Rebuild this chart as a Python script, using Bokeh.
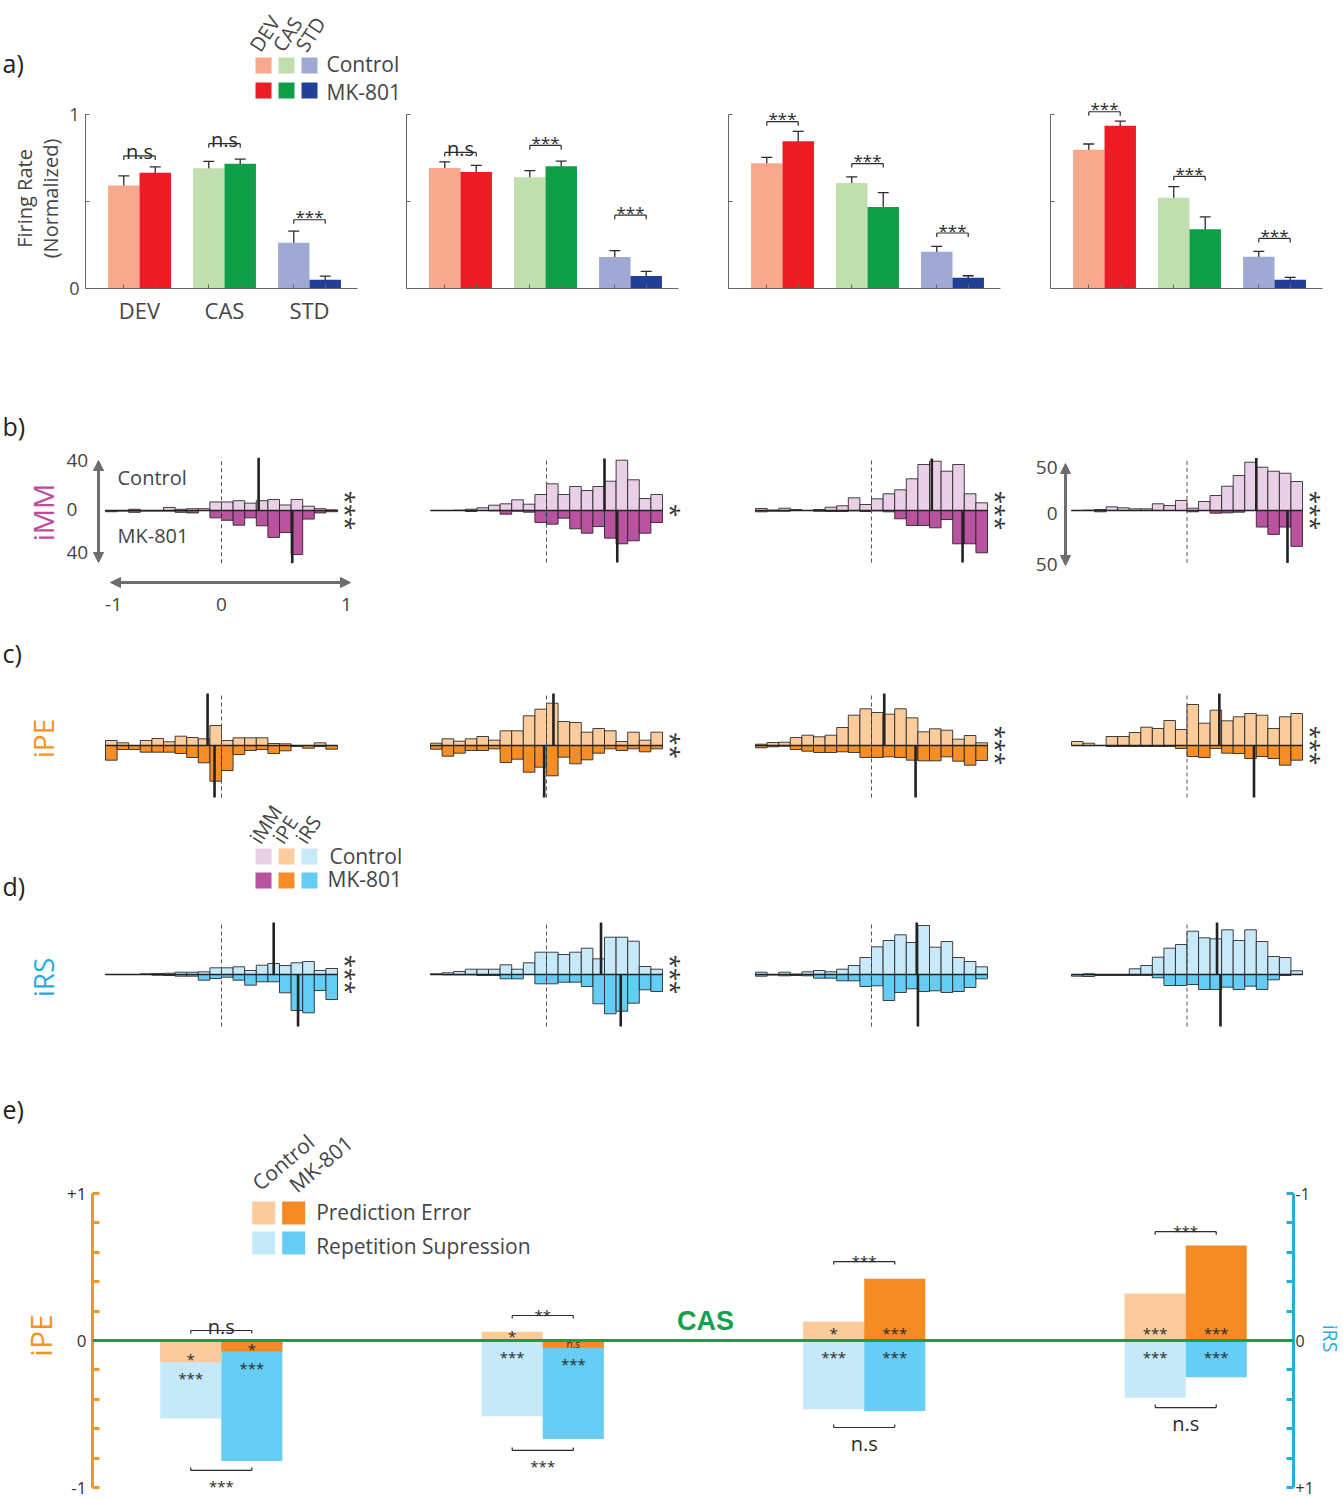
import math
from bokeh.plotting import figure
from bokeh.layouts import column, row
from bokeh.models import (Range1d, LinearAxis, FixedTicker, Arrow, NormalHead,
                          Span, Whisker, TeeHead, ColumnDataSource)
from bokeh.core.properties import value
from bokeh.embed import file_html
from bokeh.resources import INLINE

FONT = "Open Sans"
TXT = "#454545"
DARK = "#2b2b2b"

# ---------------- data: panel a (normalized firing rate) ----------------
GROUPS = ["DEV", "CAS", "STD"]
A_CTRL = [[0.59, 0.689, 0.262], [0.69, 0.638, 0.181], [0.718, 0.604, 0.21], [0.795, 0.52, 0.182]]
A_CTRL_ERR = [[0.055, 0.04, 0.067], [0.036, 0.038, 0.036], [0.034, 0.036, 0.031], [0.033, 0.064, 0.031]]
A_MK = [[0.664, 0.715, 0.05], [0.667, 0.70, 0.072], [0.844, 0.467, 0.061], [0.933, 0.34, 0.05]]
A_MK_ERR = [[0.033, 0.026, 0.021], [0.039, 0.03, 0.026], [0.056, 0.083, 0.012], [0.026, 0.07, 0.014]]
A_SIG = [["n.s", "n.s", "***"], ["n.s", "***", "***"], ["***", "***", "***"], ["***", "***", "***"]]
A_SIG_Y = [[0.76, 0.83, 0.394], [0.78, 0.82, 0.42], [0.956, 0.716, 0.318], [1.013, 0.642, 0.287]]

# ---------------- data: panels b-d (index histograms, 20 bins from -1 to 1) ----------------
BIN_EDGES = [round(-1.0 + 0.1 * i, 2) for i in range(21)]
IMM_CTRL = [
    [0, 0, 1, 0, 0, 2.5, 1, 1.5, 1.5, 7, 7, 8, 6, 8, 9, 4.5, 9, 3.5, 1.5, 0.5],
    [0, 0, 0.3, 1.3, 2.7, 5.3, 6.7, 10.7, 6.3, 16, 26.7, 16, 24, 20, 24, 29.3, 50.3, 30.7, 12, 16],
    [2, 0.3, 2.3, 1, 0, 1, 3.3, 4.7, 12.7, 6, 11.7, 16.7, 20.7, 31.7, 46, 49.3, 39.3, 46, 16.7, 7.7],
    [0, 0.3, 1.1, 4, 2.9, 1.8, 1.8, 7.3, 5.4, 10.9, 2.5, 9.8, 16.3, 26.4, 38, 52.5, 47, 42.7, 40.5, 31.5],
]
IMM_MK = [
    [1, 0.5, 1.5, 0.5, 0.5, 0.5, 1.5, 2, 0, 6, 8, 12, 6, 12.5, 22, 18, 36, 7, 2, 1],
    [0, 0, 0, 1, 0, 0.3, 3.7, 0.7, 1.7, 12, 13.7, 7.7, 18.3, 22.7, 16, 27.7, 33.3, 30.3, 22.7, 12],
    [1.3, 0.7, 0.7, 0, 0, 0.7, 1, 1, 0.3, 1, 0.3, 1.3, 8.3, 15, 15, 17.3, 9, 33.3, 33.3, 42.3],
    [0, 0, 1.4, 0, 0, 0, 0, 0, 0, 0, 1.4, 0, 2.9, 2.5, 1.8, 0, 18, 26, 18, 39],
]
IMM_MED_CTRL = [0.32, 0.50, 0.52, 0.60]
IMM_MED_MK = [0.61, 0.61, 0.785, 0.87]
IMM_SIG = ["***", "*", "***", "***"]

IPE_CTRL = [
    [5, 2.7, 0, 5, 7, 3.7, 9.3, 8, 6.7, 20, 5, 7.7, 7.7, 7.7, 2, 1.7, 0, 0, 2.7, 0],
    [2.3, 6.7, 4.3, 6.7, 9, 5.3, 14.7, 14.7, 29.7, 36.3, 42.3, 24, 23, 13.3, 17, 14.7, 4, 13.3, 5.3, 13.3],
    [1.3, 3, 3.3, 8, 10.3, 8.7, 10.3, 18, 30.3, 36.7, 33, 31.3, 36.7, 27.7, 13.7, 16.7, 15.3, 6.3, 10, 2.7],
    [4, 2.3, 0, 9, 9, 13, 18.3, 17, 25, 16, 41, 22.3, 35.3, 24.7, 28.7, 32, 30.3, 17, 28.7, 32],
]
IPE_MK = [
    [14.7, 4, 4, 6.7, 6.7, 6.7, 8, 12, 17.3, 35.7, 25, 9, 5, 4, 8, 5.3, 1, 2.7, 1, 3.7],
    [3.7, 10.7, 7.7, 5, 5, 3.3, 17, 13.7, 26.7, 21.7, 30.3, 11.7, 18.3, 14.3, 7.7, 3.3, 5, 3.3, 6.3, 3.3],
    [2.3, 1.3, 0.7, 4, 5.7, 7, 7, 6.3, 7, 12, 12, 11.3, 12, 14.7, 15.3, 15.3, 11.3, 15.7, 19.7, 15],
    [0, 0, 0, 1, 1, 1, 1, 1, 1, 3, 11, 12, 3, 7.7, 8, 13, 11, 13, 19.7, 14.7],
]
IPE_MED_CTRL = [-0.12, 0.06, 0.11, 0.28]
IPE_MED_MK = [-0.06, -0.02, 0.38, 0.58]
IPE_SIG = ["", "**", "***", "***"]

IRS_CTRL = [
    [0, 0, 0, 0.7, 1, 1.3, 2.3, 2.3, 2.7, 6.7, 6.7, 7.7, 4, 9.3, 11, 9, 11.7, 13, 4, 6],
    [0.7, 1.7, 3, 5.3, 5.3, 5.3, 9.7, 5.3, 11.7, 22.3, 22.3, 20, 22.3, 26.3, 15.7, 37.3, 37.3, 33.3, 8, 5.3],
    [2.3, 0, 2.3, 0.3, 2.7, 4, 2.7, 5.3, 9, 17, 27.7, 34, 39.7, 32, 49, 27.3, 33, 17, 13, 7.7],
    [0, 0.7, 0, 0, 0, 5.7, 9, 17.3, 26.3, 30, 43.3, 36.7, 35.7, 44.7, 34, 44.7, 33, 18, 17, 3.7],
]
IRS_MK = [
    [0, 0, 0, 0, 0.7, 1, 1.7, 1.7, 5.7, 4, 2.7, 5.7, 10.7, 7.3, 7.3, 18.3, 36, 38.3, 16, 25],
    [0, 0.3, 0.3, 0.3, 1, 1, 4.3, 4.3, 0, 9.3, 9.3, 7.7, 7.7, 12, 29.3, 39.3, 36.7, 28.7, 15.3, 17],
    [1.7, 0.5, 1.3, 1, 1.3, 3.7, 3.7, 6.3, 6.3, 12, 11.3, 26, 18, 14.3, 17, 16.3, 18, 17, 13, 4.3],
    [1.7, 2, 1, 1, 1, 1, 1, 3.3, 11, 11, 10, 15, 15, 12.7, 15, 11.7, 15, 5.3, 1, 0],
]
IRS_MED_CTRL = [0.45, 0.47, 0.39, 0.26]
IRS_MED_MK = [0.66, 0.64, 0.40, 0.29]
IRS_SIG = ["***", "***", "", ""]

# ---------------- data: panel e ----------------
E_PE_CTRL = [-0.148, 0.06, 0.129, 0.32]
E_PE_MK = [-0.075, -0.05, 0.42, 0.646]
E_RS_CTRL = [0.53, 0.515, 0.467, 0.39]
E_RS_MK = [0.82, 0.67, 0.48, 0.25]
E_PE_STAR_CTRL = ["*", "*", "*", "***"]
E_PE_STAR_MK = ["*", "n.s", "***", "***"]
E_RS_STAR_CTRL = ["***", "***", "***", "***"]
E_RS_STAR_MK = ["***", "***", "***", "***"]
E_TOP_SIG = ["n.s", "**", "***", "***"]
E_TOP_Y = [0.068, 0.17, 0.537, 0.74]
E_BOT_SIG = ["***", "***", "n.s", "n.s"]
E_BOT_Y = [-0.884, -0.748, -0.592, -0.456]

# ---------------- colours ----------------
CTRL_COLORS = ["#f8a98b", "#c1dfae", "#a0a9d3"]
MK_COLORS = ["#ec1c24", "#0f9f49", "#213f99"]
IMM_C, IMM_M = "#ead0e6", "#b9529f"
IPE_C, IPE_M = "#fdcc9d", "#f68d27"
IRS_C, IRS_M = "#c8e9f8", "#65cdf4"
MAGENTA, ORANGE, BLUE, GREEN = "#c04a9c", "#f7931e", "#29abe2", "#17a04a"
GREY = "#6d6d6d"

# ---------------- layout helpers (page pixels) ----------------
A_STRIP_W = 66
A_FIG_X = [(A_STRIP_W, 405), (405, 726), (726, 1047), (1047, 1343)]
A_AXIS_PX = [85, 406, 728, 1050]
H_FIG_X = [(0, 405), (405, 726), (726, 1020), (1020, 1343)]
HIST_X = [(105, 337), (430, 662), (755, 987), (1071, 1302)]


class Map:
    """page pixel position -> data coordinate for one figure"""
    def __init__(self, px0, d0, kx, py0, e0, ky):
        self.px0, self.d0, self.kx = px0, d0, kx
        self.py0, self.e0, self.ky = py0, e0, ky

    def x(self, px):
        return self.d0 + (px - self.px0) / self.kx

    def y(self, py):
        return self.e0 + (self.py0 - py) / self.ky

    def dy(self, d):
        return d / self.ky


def make_fig(x0, x1, y0, y1, m, fl, fr, ft, fb):
    p = figure(width=x1 - x0, height=y1 - y0,
               x_range=Range1d(m.x(fl), m.x(fr)), y_range=Range1d(m.y(fb), m.y(ft)),
               x_axis_type=None, y_axis_type=None, toolbar_location=None,
               output_backend="svg", title=None,
               min_border_left=fl - x0, min_border_right=x1 - fr,
               min_border_top=ft - y0, min_border_bottom=y1 - fb)
    p.outline_line_color = None
    return p


def strip(x0, x1, y0, y1, fb=None):
    fb = y1 if fb is None else fb
    m = Map(x0, 0.0, 1.0, y1, 0.0, 1.0)
    return make_fig(x0, x1, y0, y1, m, x0, x1, y0, fb), m


def T(p, x, y, s, size, color=TXT, align="center", baseline="middle", angle=0.0,
      style="normal", font=FONT):
    p.text(x=[x], y=[y], text=[s], text_font=value(font), text_font_size=f"{size}px",
           text_color=color, text_align=align, text_baseline=baseline, angle=angle,
           text_font_style=style)


# ---------------- panel a ----------------
def bar_panel(c):
    x0, x1 = A_FIG_X[c]
    ax = A_AXIS_PX[c]
    m = Map(ax + 54, 1.0, 85.0, 288, 0.0, 174.5)
    p = make_fig(x0, x1, 0, 330, m, ax, x1, 0, 288)
    xc = [g + 1 - 0.185 for g in range(3)]
    xm = [g + 1 + 0.185 for g in range(3)]
    p.vbar(x=xc, top=A_CTRL[c], width=0.37, fill_color=CTRL_COLORS, line_color=None)
    p.vbar(x=xm, top=A_MK[c], width=0.37, fill_color=MK_COLORS, line_color=None)
    vals = A_CTRL[c] + A_MK[c]
    errs = A_CTRL_ERR[c] + A_MK_ERR[c]
    src = ColumnDataSource(dict(x=xc + xm, lo=[v - e for v, e in zip(vals, errs)],
                                hi=[v + e for v, e in zip(vals, errs)]))
    p.add_layout(Whisker(source=src, base="x", lower="lo", upper="hi", line_color=DARK,
                         line_width=1.3,
                         lower_head=TeeHead(size=11, line_color=DARK, line_width=1.3),
                         upper_head=TeeHead(size=11, line_color=DARK, line_width=1.3)))
    d = m.dy(4)
    for g in range(3):
        ys = A_SIG_Y[c][g]
        p.segment(x0=[xc[g], xc[g], xm[g]], y0=[ys, ys, ys], x1=[xm[g], xc[g], xm[g]],
                  y1=[ys, ys - d, ys - d], line_color=DARK, line_width=1.2)
        s = A_SIG[c][g]
        if s == "n.s":
            T(p, (xc[g] + xm[g]) / 2, ys + m.dy(4), s, 20, DARK, baseline="alphabetic")
        else:
            T(p, (xc[g] + xm[g]) / 2, ys + m.dy(3), s, 17, DARK, baseline="alphabetic")

    first = (c == 0)
    ya = LinearAxis(ticker=FixedTicker(ticks=[0, 0.5, 1]), bounds=(0, 1),
                    major_label_overrides={0: "0" if first else "", 0.5: "", 1: "1" if first else ""},
                    axis_line_color="#666", major_tick_line_color="#666",
                    major_tick_in=4, major_tick_out=0, minor_tick_in=0, minor_tick_out=0,
                    major_label_text_font=FONT, major_label_text_color=TXT,
                    major_label_text_font_size="18px" if first else "0px",
                    major_label_standoff=6 if first else 0)
    p.add_layout(ya, "left")
    xa = LinearAxis(ticker=FixedTicker(ticks=[1, 2, 3], minor_ticks=sorted(xc + xm)),
                    bounds=(m.x(ax), m.x(ax + 272)),
                    major_label_overrides={1: GROUPS[0] if first else "", 2: GROUPS[1] if first else "",
                                           3: GROUPS[2] if first else ""},
                    axis_line_color="#666", minor_tick_line_color="#666",
                    major_tick_in=0, major_tick_out=0, minor_tick_in=4, minor_tick_out=0,
                    major_label_text_font=FONT, major_label_text_color=TXT,
                    major_label_text_font_size="22px" if first else "0px",
                    major_label_standoff=6 if first else 0)
    p.add_layout(xa, "below")

    if first:
        for j in range(3):
            cx = 263 + 23 * j
            p.rect(x=[m.x(cx), m.x(cx)], y=[m.y(65), m.y(90)], width=16, height=16,
                   width_units="screen", height_units="screen",
                   fill_color=[CTRL_COLORS[j], MK_COLORS[j]], line_color=None)
            T(p, m.x(cx - 9), m.y(49), GROUPS[j], 20, align="left", baseline="alphabetic",
              angle=math.radians(57))
        T(p, m.x(326), m.y(63), "Control", 21, align="left")
        T(p, m.x(326), m.y(91), "MK-801", 21, align="left")
    return p


# ---------------- panels b-d ----------------
def hist_panel(c, ctrl, mk, med_c, med_m, col_c, col_m, geom, scale, ylim, sig):
    y0, y1, base = geom
    x0, x1 = H_FIG_X[c]
    hx0, hx1 = HIST_X[c]
    m = Map(hx0, -1.0, (hx1 - hx0) / 2.0, base, 0.0, scale)
    p = make_fig(x0, x1, y0, y1, m, x0, x1, y0, y1)
    left, right = BIN_EDGES[:-1], BIN_EDGES[1:]
    p.quad(left=left, right=right, bottom=0, top=ctrl, fill_color=col_c,
           line_color="#222", line_width=1, line_alpha=0.85)
    p.quad(left=left, right=right, top=0, bottom=[-v for v in mk], fill_color=col_m,
           line_color="#222", line_width=1, line_alpha=0.85)
    p.segment(x0=[BIN_EDGES[0]], y0=[0], x1=[BIN_EDGES[-1]], y1=[0], line_color="#222", line_width=1.5)
    p.segment(x0=[0], y0=[-ylim], x1=[0], y1=[ylim], line_color="#555", line_width=1,
              line_dash="4 3")
    p.segment(x0=[med_c, med_m], y0=[0, 0], x1=[med_c, med_m], y1=[ylim, -ylim],
              line_color="#222", line_width=2.6)
    if sig:
        T(p, m.x(hx1 + 9), 0, sig, 24, "#333", angle=-math.pi / 2)
    return p, m


ROW_B = (330, 620, 510)
ROW_C = (620, 798, 745)
ROW_D = (798, 1060, 974)
B_SCALE = [1.225, 1.0, 1.0, 0.92]
B_YLIM = [43, 52, 52, 57]

# row a: label strip (frame aligned with the bar panels) + 4 bar panels
sa, ma = strip(0, A_STRIP_W, 0, 330, fb=288)
T(sa, ma.x(2), ma.y(62), "a)", 25, "#222", align="left")
T(sa, ma.x(24), ma.y(198), "Firing Rate", 20, angle=math.pi / 2)
T(sa, ma.x(50), ma.y(198), "(Normalized)", 20, angle=math.pi / 2)
row_a = [sa] + [bar_panel(c) for c in range(4)]

row_b = []
for c in range(4):
    p, m = hist_panel(c, IMM_CTRL[c], IMM_MK[c], IMM_MED_CTRL[c], IMM_MED_MK[c], IMM_C, IMM_M,
                      ROW_B, B_SCALE[c], B_YLIM[c], IMM_SIG[c])
    head = dict(size=10, fill_color=GREY, line_color=GREY)
    if c == 0:
        T(p, m.x(2), m.y(425), "b)", 25, "#222", align="left")
        T(p, m.x(42), m.y(512), "iMM", 28, MAGENTA, angle=math.pi / 2)
        T(p, m.x(117), m.y(477), "Control", 20, align="left")
        T(p, m.x(117), m.y(535), "MK-801", 20, align="left")
        p.add_layout(Arrow(x_start=m.x(98), y_start=m.y(460), x_end=m.x(98), y_end=m.y(562),
                           start=NormalHead(**head), end=NormalHead(**head),
                           line_color=GREY, line_width=3))
        for lab, py in (("40", 460), ("0", 509), ("40", 552)):
            T(p, m.x(66), m.y(py), lab, 19, align="left")
        p.add_layout(Arrow(x_start=m.x(110), y_start=m.y(582), x_end=m.x(350), y_end=m.y(582),
                           start=NormalHead(**head), end=NormalHead(**head),
                           line_color=GREY, line_width=3))
        for lab, px in (("-1", 113), ("0", 221), ("1", 346)):
            T(p, m.x(px), m.y(604), lab, 19)
    if c == 3:
        p.add_layout(Arrow(x_start=m.x(1065), y_start=m.y(463), x_end=m.x(1065), y_end=m.y(565),
                           start=NormalHead(**head), end=NormalHead(**head),
                           line_color=GREY, line_width=3))
        for lab, py in (("50", 467), ("0", 513), ("50", 564)):
            T(p, m.x(1057), m.y(py), lab, 19, align="right")
    row_b.append(p)

row_c = []
for c in range(4):
    p, m = hist_panel(c, IPE_CTRL[c], IPE_MK[c], IPE_MED_CTRL[c], IPE_MED_MK[c], IPE_C, IPE_M,
                      ROW_C, 1.0, 52, IPE_SIG[c])
    if c == 0:
        T(p, m.x(2), m.y(652), "c)", 25, "#222", align="left")
        T(p, m.x(42), m.y(738), "iPE", 28, ORANGE, angle=math.pi / 2)
    row_c.append(p)

row_d = []
for c in range(4):
    p, m = hist_panel(c, IRS_CTRL[c], IRS_MK[c], IRS_MED_CTRL[c], IRS_MED_MK[c], IRS_C, IRS_M,
                      ROW_D, 1.0, 52, IRS_SIG[c])
    if c == 0:
        T(p, m.x(2), m.y(885), "d)", 25, "#222", align="left")
        T(p, m.x(42), m.y(977), "iRS", 28, BLUE, angle=math.pi / 2)
        names = ["iMM", "iPE", "iRS"]
        cc = [IMM_C, IPE_C, IRS_C]
        mm = [IMM_M, IPE_M, IRS_M]
        for j in range(3):
            cx = 263 + 23 * j
            p.rect(x=[m.x(cx), m.x(cx)], y=[m.y(856), m.y(880)], width=16, height=16,
                   width_units="screen", height_units="screen",
                   fill_color=[cc[j], mm[j]], line_color=None)
            T(p, m.x(cx - 9), m.y(841), names[j], 20, align="left", baseline="alphabetic",
              angle=math.radians(57))
        T(p, m.x(329), m.y(855), "Control", 21, align="left")
        T(p, m.x(327), m.y(878), "MK-801", 21, align="left")
    row_d.append(p)

# ---------------- panel e ----------------
E_Y0, E_Y1 = 1060, 1498
E_STRIP_W = 64
E_RIGHT = 1316
se, mse = strip(0, E_STRIP_W, E_Y0, E_Y1)
T(se, mse.x(2), mse.y(1108), "e)", 25, "#222", align="left")
T(se, mse.x(40), mse.y(1335), "iPE", 30, ORANGE, angle=math.pi / 2)
sr, msr = strip(E_RIGHT, 1343, E_Y0, E_Y1)
T(sr, msr.x(1329.5), msr.y(1338), "iRS", 19.5, BLUE, angle=-math.pi / 2)

me = Map(221, 1.0, 322.0, 1340, 0.0, 147.0)
pe = make_fig(E_STRIP_W, E_RIGHT, E_Y0, E_Y1, me, 92, 1295, E_Y0, E_Y1)
pe.extra_y_ranges = {"rs": Range1d(start=-me.y(E_Y1), end=-me.y(E_Y0))}
EG = [1, 2, 3, 4]
exc = [g - 0.095 for g in EG]
exm = [g + 0.095 for g in EG]
pe.vbar(x=exc, bottom=0, top=E_RS_CTRL, width=0.19, fill_color="#c6e9f9", line_color=None, y_range_name="rs")
pe.vbar(x=exm, bottom=0, top=E_RS_MK, width=0.19, fill_color="#66cdf5", line_color=None, y_range_name="rs")
pe.vbar(x=exc, bottom=0, top=E_PE_CTRL, width=0.19, fill_color="#fbcb9c", line_color=None)
pe.vbar(x=exm, bottom=0, top=E_PE_MK, width=0.19, fill_color="#f48b25", line_color=None)
pe.add_layout(Span(location=0, dimension="width", line_color=GREEN, line_width=3))

for i in range(4):
    for xx, pv, ps, rs in ((exc[i], E_PE_CTRL[i], E_PE_STAR_CTRL[i], E_RS_STAR_CTRL[i]),
                           (exm[i], E_PE_MK[i], E_PE_STAR_MK[i], E_RS_STAR_MK[i])):
        if ps == "n.s":
            T(pe, xx, pv / 2, ps, 10, DARK)
        else:
            ypos = pv + 0.02 if pv < 0 else min(0.05, pv / 2)
            T(pe, xx, ypos, ps, 15, DARK)
        T(pe, xx, min(pv, 0) - 0.11, rs, 15, DARK)
    d = me.dy(3)
    yt = E_TOP_Y[i]
    pe.segment(x0=[exc[i], exc[i], exm[i]], y0=[yt, yt, yt], x1=[exm[i], exc[i], exm[i]],
               y1=[yt, yt - d, yt - d], line_color=DARK, line_width=1.2)
    if E_TOP_SIG[i] == "n.s":
        T(pe, EG[i], yt + me.dy(4), E_TOP_SIG[i], 20, DARK, baseline="alphabetic")
    else:
        T(pe, EG[i], yt + me.dy(1), E_TOP_SIG[i], 15, DARK, baseline="alphabetic")
    yb = E_BOT_Y[i]
    pe.segment(x0=[exc[i], exc[i], exm[i]], y0=[yb, yb, yb], x1=[exm[i], exc[i], exm[i]],
               y1=[yb, yb + d, yb + d], line_color=DARK, line_width=1.2)
    if E_BOT_SIG[i] == "n.s":
        T(pe, EG[i], yb - me.dy(2), E_BOT_SIG[i], 20, DARK, baseline="top")
    else:
        T(pe, EG[i], yb - me.dy(16), E_BOT_SIG[i], 15, DARK)

MINOR_E = [-0.8, -0.6, -0.4, -0.2, 0.2, 0.4, 0.6, 0.8]
yl = LinearAxis(ticker=FixedTicker(ticks=[-1, 0, 1], minor_ticks=MINOR_E), bounds=(-1, 1),
                major_label_overrides={-1: "-1", 0: "0", 1: "+1"},
                axis_line_color=ORANGE, axis_line_width=3,
                major_tick_line_color=ORANGE, major_tick_line_width=3, major_tick_in=7, major_tick_out=0,
                minor_tick_line_color=ORANGE, minor_tick_line_width=3, minor_tick_in=7, minor_tick_out=0,
                major_label_text_font=FONT, major_label_text_font_size="17px",
                major_label_text_color="#333", major_label_standoff=6)
pe.add_layout(yl, "left")
yr = LinearAxis(y_range_name="rs", ticker=FixedTicker(ticks=[-1, 0, 1], minor_ticks=MINOR_E),
                bounds=(-1, 1), major_label_overrides={-1: "-1", 0: "0", 1: "+1"},
                axis_line_color=BLUE, axis_line_width=3,
                major_tick_line_color=BLUE, major_tick_line_width=3, major_tick_in=7, major_tick_out=0,
                minor_tick_line_color=BLUE, minor_tick_line_width=3, minor_tick_in=7, minor_tick_out=0,
                major_label_text_font=FONT, major_label_text_font_size="16px",
                major_label_text_color="#333", major_label_standoff=2)
pe.add_layout(yr, "right")
T(pe, me.x(706), me.y(1320), "CAS", 27, GREEN, style="bold", font="Liberation Sans")
T(pe, me.x(255), me.y(1185), "Control", 21, align="left", baseline="alphabetic", angle=math.radians(40))
T(pe, me.x(292), me.y(1187), "MK-801", 21, align="left", baseline="alphabetic", angle=math.radians(40))
pe.rect(x=[me.x(263.5), me.x(293.5), me.x(263.5), me.x(293.5)],
        y=[me.y(1212.5), me.y(1212.5), me.y(1242.5), me.y(1242.5)],
        width=23, height=23, width_units="screen", height_units="screen",
        fill_color=["#fbcb9c", "#f48b25", "#c6e9f9", "#66cdf5"], line_color=None)
T(pe, me.x(316), me.y(1211), "Prediction Error", 21, align="left")
T(pe, me.x(316), me.y(1245), "Repetition Supression", 21, align="left")

layout = column(row(*row_a), row(*row_b), row(*row_c), row(*row_d), row(se, pe, sr))
open("out.html", "w").write(file_html(layout, INLINE, "figure"))
